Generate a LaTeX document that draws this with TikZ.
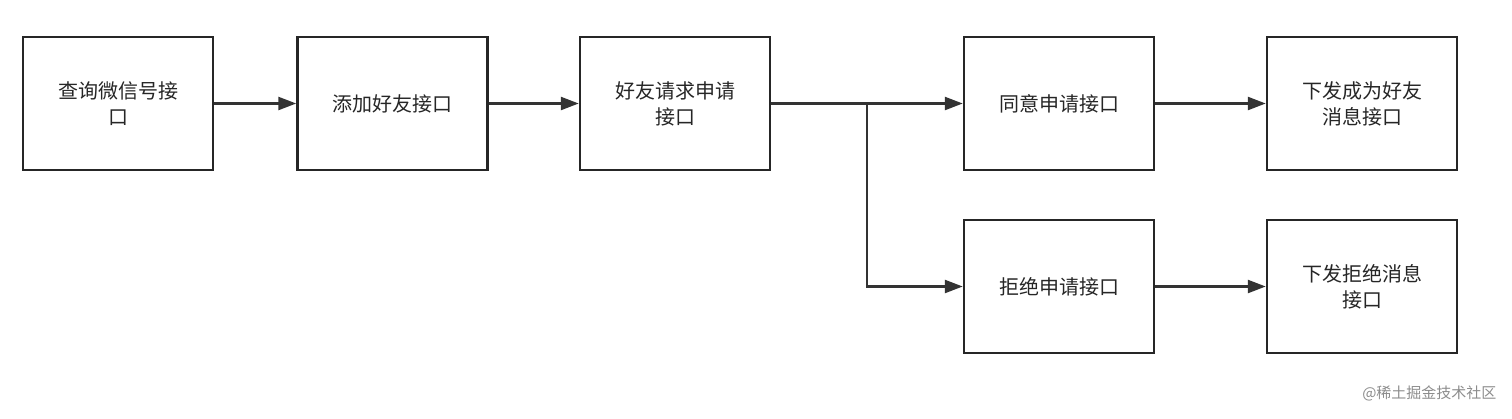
\documentclass[tikz,border=0pt]{standalone}
\usepackage{fontspec}
\setmainfont{Noto Sans CJK SC}
\usetikzlibrary{arrows.meta}
\begin{document}
\begin{tikzpicture}[x=1pt,y=-1pt,
  box/.style={draw=black!85,line width=2.5pt,minimum width=190pt,minimum height=133pt,align=center,font=\fontsize{20}{26}\selectfont,text=black!85,inner sep=0pt},
  arr/.style={draw=black!80,line width=2.5pt,-{Triangle[length=18pt,width=13pt]}}]
\useasboundingbox (0,0) rectangle (1512,418);
\node[box] (a) at (118,103.5) {查询微信号接\\口};
\node[box] (b) at (392.5,103.5) {添加好友接口};
\node[box] (c) at (675,103.5) {好友请求申请\\接口};
\node[box] (d) at (1059,103.5) {同意申请接口};
\node[box] (e) at (1362,103.5) {下发成为好友\\消息接口};
\node[box] (f) at (1059,286.5) {拒绝申请接口};
\node[box] (g) at (1362,286.5) {下发拒绝消息\\接口};
\coordinate (j) at (867,103.5);
\draw[arr] (a) -- (b);
\draw[arr] (b) -- (c);
\draw[arr] (c) -- (d);
\draw[arr] (j) |- (f);
\draw[arr] (d) -- (e);
\draw[arr] (f) -- (g);
\node[anchor=east,text=black!45,font=\fontsize{15}{18}\selectfont] (w) at (1500,393) {@稀土掘金技术社区};
\end{tikzpicture}
\end{document}
